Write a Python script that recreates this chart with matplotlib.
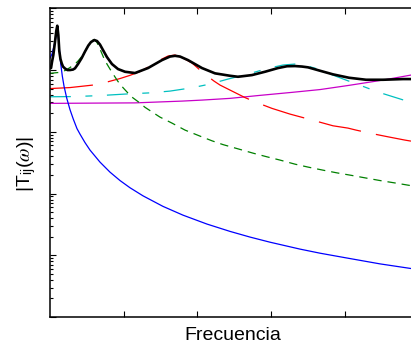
import matplotlib
matplotlib.use("Agg")
import matplotlib.pyplot as plt
from matplotlib.ticker import LogLocator, NullFormatter, FixedLocator

plt.rcParams['font.family'] = ['Liberation Sans', 'DejaVu Sans']
plt.rcParams['mathtext.fontset'] = 'stix'
plt.rcParams['lines.scale_dashes'] = False

# ---- data (frequency in arbitrary units, magnitude |T_ij|) ----
x_total = [0, 0.14, 0.27, 0.45, 0.68, 0.85, 0.99, 1.13, 1.26, 1.42, 1.59, 1.76, 2.04, 2.37, 2.71, 3.12, 3.39,
           3.80, 4.30, 4.75, 5.20, 5.56, 6.01, 6.38, 6.78, 7.19, 7.73, 8.41, 9.23, 10.18, 11.53, 13.30, 15.20,
           16.28, 16.96, 17.64, 18.72, 20.62, 22.39, 24.42, 25.51, 27.41, 29.17, 30.94, 32.16, 33.24, 34.19,
           35.01, 36.64, 38.40, 40.57, 42.88, 45.18, 47.90, 48.98]
y_total = [1.077, 1.077, 1.35, 1.75, 2.874, 4.285, 5.22, 3.69, 2.032, 1.507, 1.284, 1.139, 1.057, 1.00, 1.00,
           1.018, 1.065, 1.25, 1.564, 1.994, 2.494, 2.84, 3.06, 2.95, 2.589, 2.11, 1.62, 1.25, 1.037, 0.938,
           0.894, 1.077, 1.45, 1.654, 1.70, 1.654, 1.45, 1.077, 0.884, 0.808, 0.778, 0.829, 0.938, 1.077,
           1.152, 1.16, 1.139, 1.106, 0.974, 0.851, 0.750, 0.696, 0.696, 0.714, 0.714]

x_mode1 = [0, 0.27, 0.54, 0.75, 0.88, 0.99, 1.11, 1.22, 1.36, 1.45, 1.67, 1.90, 2.27, 2.71, 3.16, 3.66, 4.07,
           4.75, 5.43, 6.78, 8.14, 9.50, 10.85, 12.62, 15.33, 18.05, 21.30, 24.42, 27.14, 29.85, 33.92,
           36.64, 39.89, 44.78, 48.98]
y_mode1 = [1.564, 1.816, 2.447, 3.179, 4.285, 5.22, 3.977, 2.542, 1.686, 1.274, 0.799, 0.550, 0.351, 0.2288,
           0.1605, 0.1126, 0.0917, 0.0668, 0.0505, 0.0323, 0.0222, 0.01622, 0.01241, 0.00917, 0.00619,
           0.00446, 0.00320, 0.002436, 0.00197, 0.001628, 0.001258, 0.00108, 0.000920, 0.000725, 0.000610]

x_mode2 = [0, 1.09, 2.04, 2.71, 3.39, 3.80, 4.48, 5.16, 5.56, 6.01, 6.38, 6.78, 7.33, 7.73, 8.14, 8.59, 9.23,
           9.91, 10.58, 11.26, 12.21, 12.89, 13.98, 14.92, 16.55, 18.32, 20.35, 21.98, 23.47, 25.78, 27.54,
           29.44, 31.21, 33.24, 35.01, 37.04, 38.94, 40.98, 43.01, 44.78, 46.81, 48.98]
y_mode2 = [0.884, 0.911, 0.981, 1.097, 1.25, 1.398, 1.75, 2.447, 2.95, 3.12, 2.79, 2.189, 1.536, 1.25, 1.037,
           0.851, 0.651, 0.518, 0.424, 0.354, 0.292, 0.249, 0.2046, 0.1729, 0.1382, 0.1065, 0.0851, 0.0714,
           0.0620, 0.0518, 0.0451, 0.0393, 0.0348, 0.0299, 0.0268, 0.0239, 0.0216, 0.0196, 0.0177, 0.01622,
           0.01483, 0.01341]

x_mode3 = [0, 2.71, 5.83, 7.87, 9.50, 10.85, 12.21, 13.57, 14.92, 16.01, 16.96, 17.91, 19.27, 20.35, 21.30,
           22.25, 23.07, 24.42, 26.46, 28.22, 30.12, 32.56, 36.09, 38.40, 40.43, 41.52, 43.69, 45.86, 48.17,
           48.98]
y_mode3 = [0.501, 0.520, 0.571, 0.646, 0.728, 0.820, 0.945, 1.16, 1.45, 1.686, 1.75, 1.594, 1.30, 1.00, 0.808,
           0.663, 0.571, 0.474, 0.358, 0.292, 0.2393, 0.1935, 0.1489, 0.1250, 0.1147, 0.1065, 0.0934, 0.0829,
           0.0733, 0.0706]

x_mode4 = [0, 3.39, 6.78, 10.18, 13.57, 16.28, 19.27, 21.71, 24.15, 26.05, 27.82, 29.58, 31.61, 33.24, 34.60,
           36.36, 38.13, 40.16, 42.61, 44.64, 46.68, 48.98]
y_mode4 = [0.369, 0.372, 0.386, 0.408, 0.427, 0.456, 0.516, 0.593, 0.714, 0.814, 0.928, 1.065, 1.205, 1.25,
           1.191, 1.037, 0.851, 0.688, 0.536, 0.435, 0.365, 0.2995]

x_mode5 = [0, 6.78, 11.53, 17.91, 20.62, 24.42, 28.22, 32.84, 36.64, 40.57, 45.18, 48.98]
y_mode5 = [0.2884, 0.2917, 0.2938, 0.314, 0.326, 0.3476, 0.386, 0.435, 0.4828, 0.5648, 0.688, 0.829]

x_ticks = [10, 20, 30, 40]
x_label = "Frecuencia"
y_label = r"|T$_{\mathregular{ij}}$($\omega$)|"

# ---- figure ----
W, H = 411, 347
fig = plt.figure(figsize=(W / 100, H / 100), dpi=100)
left, right, top, bottom = 50, 418.5, 8.3, 317
ax = fig.add_axes([left / W, (H - bottom) / H, (right - left) / W, (bottom - top) / H])

ax.plot(x_mode5, y_mode5, color='#c800c8', lw=0.9)
ax.plot(x_mode4, y_mode4, color='#00c0c0', lw=0.9, dashes=(15, 10.5, 5, 10.5))
ax.plot(x_mode3, y_mode3, color='#ff0000', lw=0.9, dashes=(31, 11))
ax.plot(x_mode2, y_mode2, color='#008000', lw=0.9, dashes=(6, 4.3))
ax.plot(x_mode1, y_mode1, color='#0000ff', lw=0.9)
ax.plot(x_total, y_total, color='black', lw=1.9)

ax.set_yscale('log')
ax.set_xlim(0, 50)
ax.set_ylim(1e-4, 1e1)
ax.xaxis.set_major_locator(FixedLocator(x_ticks))
ax.yaxis.set_major_locator(LogLocator(base=10, numticks=10))
ax.yaxis.set_minor_locator(LogLocator(base=10, subs=range(2, 10), numticks=20))
ax.xaxis.set_major_formatter(NullFormatter())
ax.yaxis.set_major_formatter(NullFormatter())
ax.yaxis.set_minor_formatter(NullFormatter())
ax.tick_params(axis='both', which='both', direction='in', top=True, right=True, width=0.8, color='black')
ax.tick_params(axis='both', which='major', length=4)
ax.tick_params(axis='y', which='minor', length=2.2)
for s in ax.spines.values():
    s.set_linewidth(1.1)

fig.text(232.5 / W, 1 - 335 / H, x_label, ha='center', va='center', fontsize=14)
fig.text(27 / W, 1 - 164 / H, y_label, ha='center', va='center', rotation=90, fontsize=14)

fig.savefig('out.png', dpi=100)
